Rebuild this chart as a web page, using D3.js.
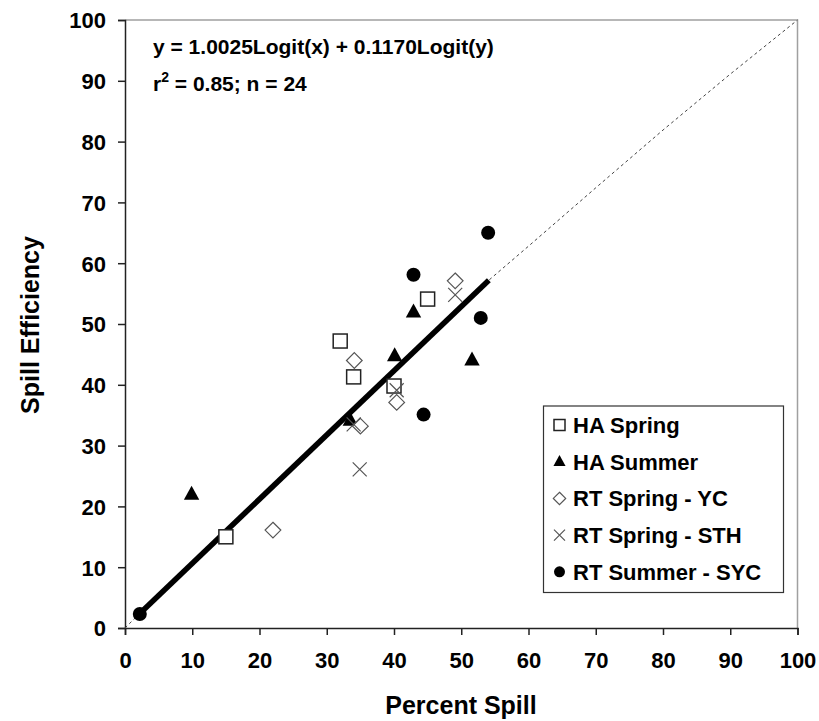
<!DOCTYPE html>
<html><head><meta charset="utf-8">
<script src="https://cdn.jsdelivr.net/npm/d3@7"></script>
<style>body{margin:0;background:#fff}svg{display:block}text{font-family:"Liberation Sans",Arial,sans-serif;font-weight:bold}</style>
</head><body><svg id="c" width="819" height="721"></svg>
<script>
// Data
const seriesNames = ["HA Spring","HA Summer","RT Spring - YC","RT Spring - STH","RT Summer - SYC"];
const haSpringX = [15, 32, 34, 40, 45];
const haSpringY = [15, 47.2, 41.3, 39.8, 54.1];
const haSummerX = [9.9, 33.5, 40.1, 42.9, 51.6];
const haSummerY = [22, 34.2, 44.8, 52, 44.1];
const rtSpringYcX = [22, 35, 34.1, 40.4, 49.1];
const rtSpringYcY = [16.1, 33.2, 44, 37.1, 57.1];
const rtSpringSthX = [34.9, 34, 40.4, 49.1];
const rtSpringSthY = [26.1, 33.5, 39.1, 54.8];
const rtSummerX = [2.2, 42.9, 54, 52.9, 44.4];
const rtSummerY = [2.3, 58.1, 65, 51, 35.1];
// fitted curve (thick over data range, dashed extension)
const curveX = [0, 2.2, 54.1, 60, 70, 80, 90, 100];
const curveY = [0, 2.4, 57.2, 62.8, 72.4, 81.9, 91.1, 100];
const fitStart = 1, fitEnd = 2;
const xTicks = [0,10,20,30,40,50,60,70,80,90,100];
const yTicks = [0,10,20,30,40,50,60,70,80,90,100];
const eqLine1 = "y = 1.0025Logit(x) + 0.1170Logit(y)";

const svg = d3.select("#c");
const L = 125, R = 797.5, T = 20, B = 628;
const x = d3.scaleLinear().domain([0,100]).range([L,R]);
const y = d3.scaleLinear().domain([0,100]).range([B,T]);

// plot border (top/right)
svg.append("path").attr("d",`M${L},${T}H${R}V${B}`).attr("fill","none").attr("stroke","#a0a0a0").attr("stroke-width",1.5);

// axes
const xAxis = svg.append("g").attr("transform",`translate(0,${B})`)
  .call(d3.axisBottom(x).tickValues(xTicks).tickSize(7).tickPadding(17).tickFormat(d3.format("d")));
const yAxis = svg.append("g").attr("transform",`translate(${L},0)`)
  .call(d3.axisLeft(y).tickValues(yTicks).tickSize(7).tickPadding(12).tickFormat(d3.format("d")));
[xAxis,yAxis].forEach(a=>{
  a.select(".domain").attr("stroke","#222").attr("stroke-width",1.5);
  a.selectAll(".tick line").attr("stroke","#222").attr("stroke-width",1.5);
  a.selectAll("text").attr("font-size",22).attr("font-family","Liberation Sans, Arial, sans-serif").attr("font-weight","bold").attr("fill","#000");
});
yAxis.selectAll("text").attr("dy","0.36em");

const line = d3.line().x(d=>x(d[0])).y(d=>y(d[1]));
const curvePts = curveX.map((v,i)=>[v,curveY[i]]);
// dashed full curve
svg.append("path").attr("d",line(curvePts)).attr("fill","none")
  .attr("stroke","#444").attr("stroke-width",1).attr("stroke-dasharray","3,3");
// thick fit over data range
svg.append("path").attr("d",line(curvePts.slice(fitStart,fitEnd+1))).attr("fill","none")
  .attr("stroke","#000").attr("stroke-width",5.5).attr("stroke-linecap","butt");

// marker drawing
function marker(g, type, cx, cy, s){
  if(type===0){
    g.append("rect").attr("x",cx-s/2).attr("y",cy-s/2).attr("width",s).attr("height",s)
      .attr("fill","#fff").attr("stroke","#222").attr("stroke-width",1.5);
  } else if(type===1){
    const w = s*1.1, h = s*1.0;
    g.append("path").attr("d",`M${cx},${cy-h*0.6}L${cx+w/2},${cy+h*0.4}L${cx-w/2},${cy+h*0.4}Z`).attr("fill","#000");
  } else if(type===2){
    const r = s*0.56;
    g.append("path").attr("d",`M${cx},${cy-r}L${cx+r},${cy}L${cx},${cy+r}L${cx-r},${cy}Z`)
      .attr("fill","#fff").attr("stroke","#555").attr("stroke-width",1.2);
  } else if(type===3){
    const r = s*0.5;
    g.append("path").attr("d",`M${cx-r},${cy-r}L${cx+r},${cy+r}M${cx-r},${cy+r}L${cx+r},${cy-r}`)
      .attr("fill","none").attr("stroke","#555").attr("stroke-width",1.2);
  } else {
    g.append("circle").attr("cx",cx).attr("cy",cy).attr("r",s*0.5).attr("fill","#000");
  }
}
const series = [[haSpringX,haSpringY],[haSummerX,haSummerY],[rtSpringYcX,rtSpringYcY],[rtSpringSthX,rtSpringSthY],[rtSummerX,rtSummerY]];
const pts = svg.append("g");
series.forEach(([xs,ys],i)=>{
  xs.forEach((v,j)=>marker(pts, i, x(v), y(ys[j]), 14));
});

// equation text
svg.append("text").attr("x",153).attr("y",54).attr("font-size",21).text(eqLine1);
const t2 = svg.append("text").attr("x",153).attr("y",91).attr("font-size",21);
t2.append("tspan").text("r");
t2.append("tspan").attr("dy",-9).attr("font-size",14).text("2");
t2.append("tspan").attr("dy",9).text(" = 0.85; n = 24");

// legend
const lg = svg.append("g");
lg.append("rect").attr("x",543.5).attr("y",406).attr("width",240).attr("height",186.5)
  .attr("fill","#fff").attr("stroke","#333").attr("stroke-width",1.2);
seriesNames.forEach((n,i)=>{
  const cy = 425 + i*36.7;
  marker(lg, i, 559.5, cy, 11);
  lg.append("text").attr("x",573).attr("y",cy).attr("dy","0.36em").attr("font-size",22).text(n);
});

// axis titles
svg.append("text").attr("x",461).attr("y",714).attr("text-anchor","middle").attr("font-size",25).text("Percent Spill");
svg.append("text").attr("transform","translate(39,325) rotate(-90)").attr("text-anchor","middle").attr("font-size",25).text("Spill Efficiency");
</script></body></html>
